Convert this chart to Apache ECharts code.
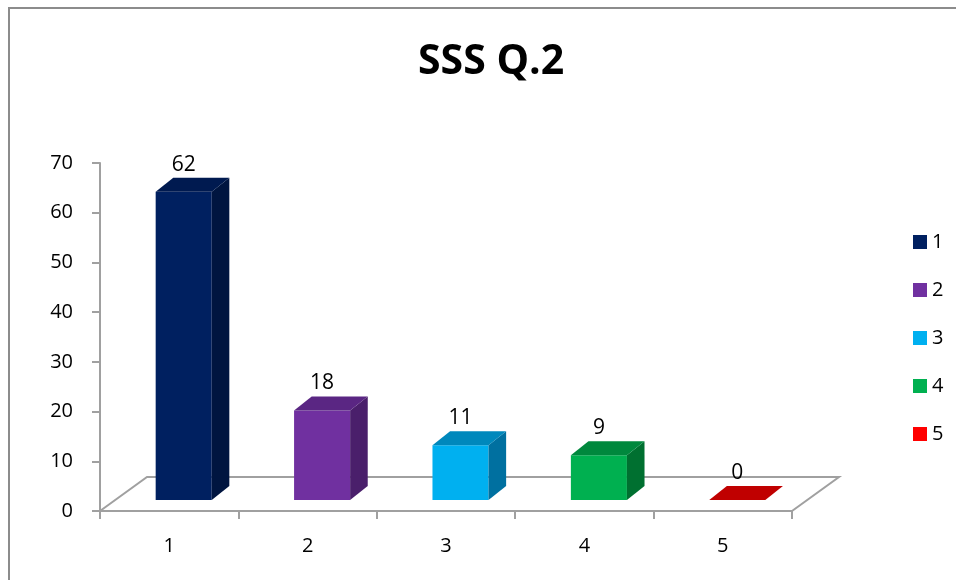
<!DOCTYPE html>
<html>
<head>
<meta charset="utf-8">
<script src="https://cdn.jsdelivr.net/npm/echarts@6/dist/echarts.min.js"></script>
<style>html,body{margin:0;padding:0;background:#fff;}#chart{width:956px;height:580px;}</style>
</head>
<body>
<div id="chart"></div>
<script>
const titleText = 'SSS Q.2';
const categories = ['1', '2', '3', '4', '5'];
const seriesNames = ['1', '2', '3', '4', '5'];
const values = [62, 18, 11, 9, 0];
const yTicks = { min: 0, max: 70, interval: 10 };

const frontColors = ['#002060', '#7030A0', '#00B0F0', '#00B050', '#FF0000'];
const topColors   = ['#001A50', '#5A2683', '#0088BC', '#00883D', '#C00000'];
const sideColors  = ['#001540', '#4A1F6B', '#0070A0', '#007030', '#A00000'];

const FONT = 'Open Sans';
const FX = 14.5, FY = -11;   // front face offset from axis plane
const DX = 17.6, DY = -14;   // bar depth
const FLOOR_DX = 47, FLOOR_DY = -34;

function makeBarRender(si) {
  return function (params, api) {
    const idx = api.value(0), val = api.value(1);
    const base = api.coord([idx, 0]);
    const top = api.coord([idx, val]);
    const bw = api.size([1, 0])[0];
    const w = bw * 0.405;
    const cx = base[0] + FX;
    const L = cx - w / 2, R = cx + w / 2;
    const T = top[1] + FY, B = base[1] + FY;
    const children = [];
    if (B - T > 0.5) {
      children.push({ type: 'rect', shape: { x: L, y: T, width: w, height: B - T },
        style: { fill: frontColors[si] } });
      children.push({ type: 'polygon', shape: { points: [[R, T], [R + DX, T + DY], [R + DX, B + DY], [R, B]] },
        style: { fill: sideColors[si] } });
    }
    children.push({ type: 'polygon', shape: { points: [[L, T], [R, T], [R + DX, T + DY], [L + DX, T + DY]] },
      style: { fill: topColors[si] } });
    children.push({ type: 'text', x: cx, y: T + DY - 13,
      style: { text: String(val), fill: '#000', font: '21px "' + FONT + '"', align: 'center', verticalAlign: 'middle' } });
    return { type: 'group', children: children };
  };
}

const chart = echarts.init(document.getElementById('chart'), null, { renderer: 'canvas' });

const series = [{
  type: 'custom',
  name: 'floor',
  silent: true,
  z: 1,
  data: [[0, 0]],
  renderItem: function (params, api) {
    const cs = params.coordSys;
    const x0 = cs.x, x1 = cs.x + cs.width, y = cs.y + cs.height;
    return { type: 'polyline', shape: { points: [[x0, y], [x0 + FLOOR_DX, y + FLOOR_DY], [x1 + FLOOR_DX, y + FLOOR_DY], [x1, y]] },
      style: { stroke: '#A0A0A0', lineWidth: 2, fill: null } };
  }
}];
seriesNames.forEach(function (n, i) {
  series.push({
    type: 'custom',
    name: n,
    z: 3,
    itemStyle: { color: frontColors[i] },
    encode: { x: 0, y: 1 },
    data: [[i, values[i]]],
    renderItem: makeBarRender(i)
  });
});

chart.setOption({
  animation: false,
  backgroundColor: '#fff',
  title: {
    text: titleText, left: 413, top: 37,
    textStyle: { fontFamily: FONT, fontSize: 41, fontWeight: 'bold', color: '#000' }
  },
  graphic: [{ type: 'rect', shape: { x: 9, y: 8, width: 1200, height: 1200 },
    style: { fill: null, stroke: '#8C8C8C', lineWidth: 2 }, silent: true }],
  legend: {
    data: seriesNames, orient: 'vertical', left: 908, top: 227,
    itemWidth: 14, itemHeight: 14, itemGap: 28, icon: 'rect',
    textStyle: { fontFamily: FONT, fontSize: 20, color: '#000' }
  },
  grid: { left: 100, right: 164, top: 163, bottom: 69 },
  xAxis: {
    type: 'category', data: categories, boundaryGap: true,
    axisLine: { lineStyle: { color: '#A0A0A0', width: 2 } },
    axisTick: { show: true, length: 8, alignWithLabel: false, lineStyle: { color: '#A0A0A0', width: 2 } },
    axisLabel: { fontFamily: FONT, fontSize: 20, color: '#000', margin: 25 },
    splitLine: { show: false }
  },
  yAxis: {
    type: 'value', min: yTicks.min, max: yTicks.max, interval: yTicks.interval,
    axisLine: { show: true, lineStyle: { color: '#A0A0A0', width: 2 } },
    axisTick: { show: true, length: 8, lineStyle: { color: '#A0A0A0', width: 2 } },
    axisLabel: { fontFamily: FONT, fontSize: 20, color: '#000', margin: 27 },
    splitLine: { show: false }
  },
  series: series
});
</script>
</body>
</html>
